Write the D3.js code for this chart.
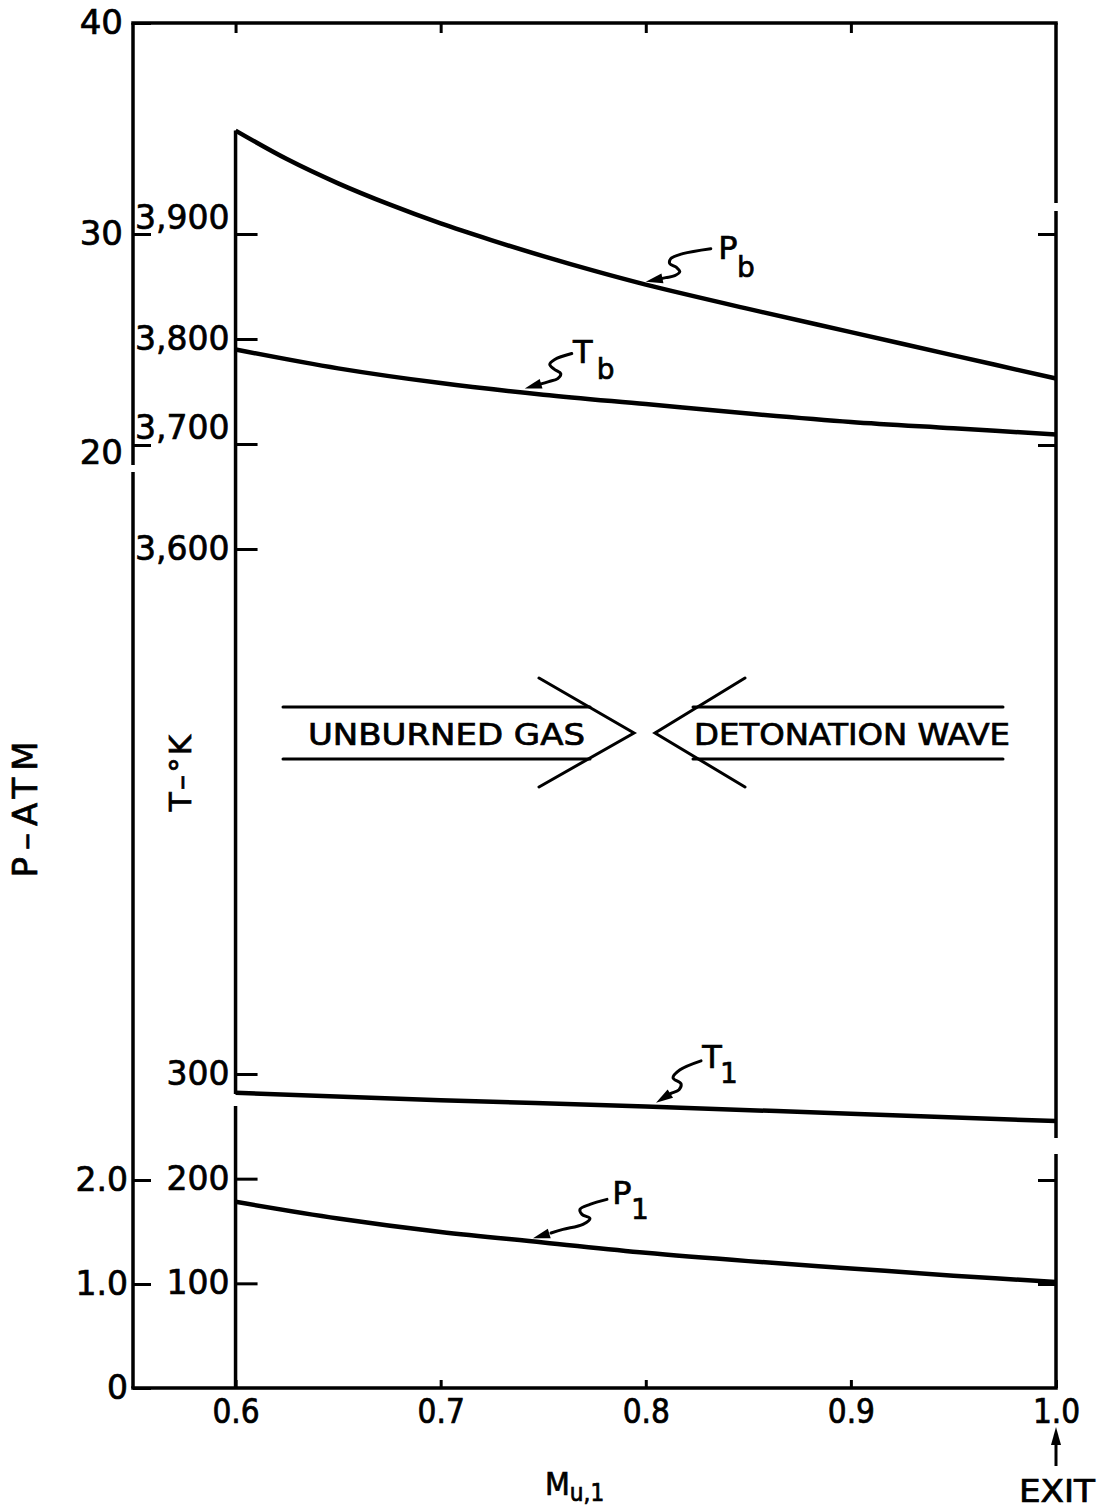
<!DOCTYPE html>
<html><head><meta charset="utf-8">
<script src="https://cdn.jsdelivr.net/npm/d3@7"></script>
<style>
body{margin:0;background:#fff}
svg{display:block;background:#fff}
text{font-family:"DejaVu Sans",sans-serif;fill:#000;stroke:#000;stroke-width:0.7px}
.cond{font-family:"DejaVu Sans Condensed","DejaVu Sans",sans-serif;font-stretch:condensed}
</style>
</head><body>
<svg id="c" width="1100" height="1511"></svg>
<script>
// ---- data ----
const pbMach   = [0.6, 0.625, 0.65, 0.675, 0.7, 0.725, 0.75, 0.775, 0.8, 0.85, 0.9, 0.95, 1.0];
const pbValues = [34.9, 33.55, 32.4, 31.4, 30.5, 29.7, 28.95, 28.25, 27.6, 26.45, 25.35, 24.25, 23.15];
const tbMach   = [0.6, 0.65, 0.7, 0.75, 0.8, 0.85, 0.9, 0.95, 1.0];
const tbValues = [3790, 3772, 3758, 3747, 3738, 3729, 3721, 3715, 3709];
const t1Mach   = [0.6, 0.7, 0.8, 0.9, 1.0];
const t1Values = [282, 275, 269, 262, 255];
const p1Mach   = [0.6, 0.65, 0.7, 0.75, 0.8, 0.85, 0.9, 0.95, 1.0];
const p1Values = [1.79, 1.63, 1.50, 1.40, 1.30, 1.22, 1.15, 1.08, 1.02];
const xTicks = [0.6, 0.7, 0.8, 0.9, 1.0];
const pTicksUpper = [20, 30, 40];
const pTicksLower = [0, 1, 2];
const tTicksUpper = [3600, 3700, 3800, 3900];
const tTicksLower = [100, 200, 300];

// ---- scales ----
const svg = d3.select("#c");
const x   = d3.scaleLinear().domain([0.55, 1.0]).range([133, 1056]);
const yPU = d3.scaleLinear().domain([20, 40]).range([445, 23]);
const yPL = d3.scaleLinear().domain([0, 2]).range([1388, 1180]);
const yTU = d3.scaleLinear().domain([3600, 3900]).range([549, 234]);
const yTL = d3.scaleLinear().domain([0, 300]).range([1388, 1074]);

const L = x(0.55), R = x(1.0), T = yPU(40), B = yPL(0), X6 = x(0.6);

function vline(xp, y0, y1, gaps, w) {
  let segs = [], cur = y0;
  gaps.forEach(g => { segs.push([cur, g[0]]); cur = g[1]; });
  segs.push([cur, y1]);
  segs.forEach(s => svg.append("line").attr("x1", xp).attr("x2", xp).attr("y1", s[0]).attr("y2", s[1])
    .attr("stroke", "#000").attr("stroke-width", w));
}
// frame
svg.append("line").attr("x1", L).attr("x2", R).attr("y1", T).attr("y2", T).attr("stroke", "#000").attr("stroke-width", 3.5).attr("stroke-linecap", "square");
svg.append("line").attr("x1", L).attr("x2", R).attr("y1", B).attr("y2", B).attr("stroke", "#000").attr("stroke-width", 3.5).attr("stroke-linecap", "square");
vline(L, T, B, [[465, 472]], 3.5);
vline(R, T, B, [[203, 211], [1138, 1154]], 3.5);
vline(X6, yPU(pbValues[0]), B, [[1094, 1106]], 3.5);

function styleAxis(g, size, cls) {
  g.select(".domain").remove();
  g.selectAll(".tick line").attr("stroke", "#000").attr("stroke-width", 3);
  g.selectAll(".tick text").attr("font-size", size).attr("fill", "#000").attr("class", cls || null);
}
// left P axis
const gPU = svg.append("g").attr("transform", `translate(${L},0)`)
  .call(d3.axisLeft(yPU).tickValues(pTicksUpper).tickSize(-18).tickPadding(10).tickFormat(d3.format("d")));
styleAxis(gPU, 34);
gPU.selectAll(".tick text").attr("dy", d => d === 20 ? "0.55em" : "0.32em");
const gPL = svg.append("g").attr("transform", `translate(${L},0)`)
  .call(d3.axisLeft(yPL).tickValues(pTicksLower).tickSize(-18).tickPadding(5).tickFormat(d => d === 0 ? "0" : d3.format(".1f")(d)));
styleAxis(gPL, 33);
// inner T axis
const gTU = svg.append("g").attr("transform", `translate(${X6},0)`)
  .call(d3.axisLeft(yTU).tickValues(tTicksUpper).tickSize(-22).tickPadding(6).tickFormat(d3.format(",")));
styleAxis(gTU, 33);
gTU.selectAll(".tick text").attr("dy", d => (d === 3900 || d === 3700) ? "-0.18em" : "0.32em");
const gTL = svg.append("g").attr("transform", `translate(${X6},0)`)
  .call(d3.axisLeft(yTL).tickValues(tTicksLower).tickSize(-22).tickPadding(6).tickFormat(d3.format("d")));
styleAxis(gTL, 33);
// right ticks
svg.append("g").attr("transform", `translate(${R},0)`)
  .call(d3.axisRight(yPU).tickValues([20, 30]).tickSize(-18).tickFormat(""))
  .call(g => styleAxis(g, 10));
svg.append("g").attr("transform", `translate(${R},0)`)
  .call(d3.axisRight(yPL).tickValues([1, 2]).tickSize(-18).tickFormat(""))
  .call(g => styleAxis(g, 10));
// bottom axis
const gB = svg.append("g").attr("transform", `translate(0,${B})`)
  .call(d3.axisBottom(x).tickValues(xTicks).tickSize(-8).tickPadding(12).tickFormat(d3.format(".1f")));
styleAxis(gB, 33, "cond");
// top ticks
svg.append("g").attr("transform", `translate(0,${T})`)
  .call(d3.axisTop(x).tickValues([0.6, 0.7, 0.8, 0.9]).tickSize(-10).tickFormat(""))
  .call(g => styleAxis(g, 10));

// ---- curves ----
function drawCurve(mach, vals, ys) {
  const line = d3.line().x(d => x(d[0])).y(d => ys(d[1])).curve(d3.curveCatmullRom.alpha(0.5));
  svg.append("path").datum(mach.map((m, i) => [m, vals[i]])).attr("d", line)
    .attr("fill", "none").attr("stroke", "#000").attr("stroke-width", 4.5).attr("stroke-linejoin", "round");
}
drawCurve(pbMach, pbValues, yPU);
drawCurve(tbMach, tbValues, yTU);
drawCurve(t1Mach, t1Values, yTL);
drawCurve(p1Mach, p1Values, yPL);

// ---- pointers ----
function at(mach, vals, m) { return d3.scaleLinear().domain(mach).range(vals)(m); }
function pointer(tx, ty, pts, label, sub, lp, sp) {
  const n = pts.length;
  const abs = pts.slice(0, -1).map(p => [tx + p[0], ty + p[1]]);
  abs.push([tx + pts[n - 2][0] * 0.6, ty + pts[n - 2][1] * 0.6]);
  svg.append("path").attr("d", d3.line().curve(d3.curveCatmullRom)(abs))
    .attr("fill", "none").attr("stroke", "#000").attr("stroke-width", 3).attr("stroke-linecap", "round");
  const p = pts[n - 2];
  const ang = Math.atan2(-p[1], -p[0]);
  const len = 17, hw = 5;
  const bx = tx - Math.cos(ang) * len, by = ty - Math.sin(ang) * len;
  const nx = -Math.sin(ang) * hw, ny = Math.cos(ang) * hw;
  svg.append("path").attr("d", `M${tx},${ty}L${bx + nx},${by + ny}L${bx - nx},${by - ny}Z`).attr("fill", "#000");
  svg.append("text").attr("x", tx + lp[0]).attr("y", ty + lp[1]).attr("text-anchor", "middle")
    .attr("dominant-baseline", "central").attr("font-size", 32).text(label);
  svg.append("text").attr("x", tx + sp[0]).attr("y", ty + sp[1]).attr("text-anchor", "middle")
    .attr("dominant-baseline", "central").attr("font-size", 28).text(sub);
}
pointer(x(0.8), yPU(at(pbMach, pbValues, 0.8)) - 3,
  [[65, -33], [37, -28], [25, -23], [24, -18], [31, -14], [34, -10], [29, -6], [20, -4], [0, 0]], "P", "b", [82, -34], [100, -14]);
pointer(x(0.741), yTU(at(tbMach, tbValues, 0.741)) - 4,
  [[47, -35], [30, -29], [25, -24], [30, -19], [36, -15], [33, -10], [24, -7], [0, 0]], "T", "b", [58, -37], [81, -19]);
pointer(x(0.805), yTL(at(t1Mach, t1Values, 0.805)) - 4,
  [[45, -42], [24, -33], [17, -25], [25, -19], [23, -13], [14, -9], [0, 0]], "T", "1", [56, -46], [73, -29]);
pointer(x(0.745), yPL(at(p1Mach, p1Values, 0.745)) - 3,
  [[74, -39], [57, -34], [47, -29], [49, -24], [57, -20], [50, -14], [30, -9], [0, 0]], "P", "1", [89, -45], [107, -29]);

// ---- flow arrows ----
const ag = svg.append("g").attr("stroke", "#000").attr("stroke-width", 3).attr("fill", "none").attr("stroke-linecap", "round");
ag.append("line").attr("x1", 283).attr("x2", 590).attr("y1", 707).attr("y2", 707);
ag.append("line").attr("x1", 283).attr("x2", 590).attr("y1", 759).attr("y2", 759);
ag.append("path").attr("d", "M539,678L634,733L539,787");
ag.append("line").attr("x1", 693).attr("x2", 1003).attr("y1", 707).attr("y2", 707);
ag.append("line").attr("x1", 693).attr("x2", 1003).attr("y1", 759).attr("y2", 759);
ag.append("path").attr("d", "M745,678L655,733L745,787");
svg.append("text").attr("class", "cond").attr("x", 308).attr("y", 745).attr("font-size", 31)
  .attr("textLength", 277).attr("lengthAdjust", "spacingAndGlyphs").text("UNBURNED GAS");
svg.append("text").attr("class", "cond").attr("x", 694).attr("y", 745).attr("font-size", 31)
  .attr("textLength", 316).attr("lengthAdjust", "spacingAndGlyphs").text("DETONATION WAVE");

// ---- axis titles ----
svg.append("text").attr("transform", "translate(37,806) rotate(-90)").attr("text-anchor", "middle")
  .attr("font-size", 34).attr("letter-spacing", 7).text("P–ATM");
svg.append("text").attr("transform", "translate(191,772) rotate(-90)").attr("text-anchor", "middle")
  .attr("font-size", 31).attr("letter-spacing", 2).text("T–°K");
const mt = svg.append("text").attr("x", 545).attr("y", 1495).attr("font-size", 32).attr("class", "cond");
mt.append("tspan").text("M");
mt.append("tspan").attr("font-size", 24).attr("dy", 6).text("u,1");
svg.append("text").attr("class", "cond").attr("x", R + 1).attr("y", 1502).attr("text-anchor", "middle")
  .attr("font-size", 32).attr("textLength", 76).attr("lengthAdjust", "spacingAndGlyphs").text("EXIT");
svg.append("line").attr("x1", R).attr("x2", R).attr("y1", 1466).attr("y2", 1440).attr("stroke", "#000").attr("stroke-width", 3);
svg.append("path").attr("d", `M${R},1427L${R - 5},1445L${R + 5},1445Z`).attr("fill", "#000");
</script>
</body></html>
